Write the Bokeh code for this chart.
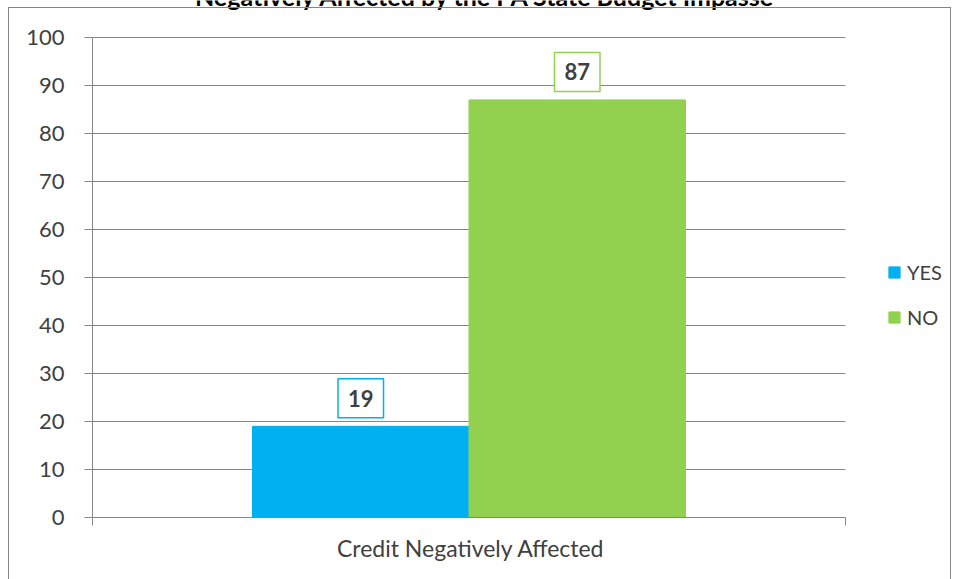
from bokeh.plotting import figure
from bokeh.layouts import column
from bokeh.models import (ColumnDataSource, FixedTicker, Label, Legend, LegendItem,
                          Range1d, Div, Title)
from bokeh.embed import file_html
from bokeh.resources import INLINE

title_text = "Negatively Affected by the PA State Budget Impasse"
category = "Credit Negatively Affected"
series = ["YES", "NO"]
values = [19, 87]
colors = ["#00B0F0", "#92D050"]
y_ticks = list(range(0, 101, 10))

W, H = 956, 579
FL, FT, FR, FB = 92, 37, 845, 517      # axis area edges in page px
px_per_unit = (FB - FT) / 100
x_end = (W - FL) / (FR - FL)           # frame runs to the right edge; axis spans 0..1
y_end = FB / px_per_unit               # frame runs to the top edge; axis spans 0..100

p = figure(width=W, height=H, output_backend="svg", toolbar_location=None,
           x_range=Range1d(0, x_end), y_range=Range1d(0, y_end),
           min_border_left=FL, min_border_top=0,
           min_border_right=0, min_border_bottom=H - FB,
           margin=(0, 0, 0, 0))
p.outline_line_color = None
p.background_fill_color = "white"
p.border_fill_color = "white"

# gridlines over the category span only
p.xgrid.grid_line_color = None
p.ygrid.grid_line_color = None
p.segment(x0=[0] * len(y_ticks), x1=[1] * len(y_ticks), y0=y_ticks, y1=y_ticks,
          line_color="#868686", line_width=1)

group_w = 0.575
bar_w = group_w / len(series)
xs = [0.5 - group_w / 2 + bar_w * (i + 0.5) for i in range(len(series))]
src = ColumnDataSource(dict(x=xs, top=values, color=colors, name=series))
r = p.vbar(x="x", top="top", width=bar_w, color="color", source=src)

p.yaxis.bounds = (0, 100)
p.yaxis.ticker = FixedTicker(ticks=y_ticks)
p.yaxis.major_label_text_font = "Lato"
p.yaxis.major_label_text_font_size = "22px"
p.yaxis.major_label_text_color = "#404040"
p.yaxis.axis_line_color = "#868686"
p.yaxis.major_tick_line_color = "#868686"
p.yaxis.major_tick_in = 0
p.yaxis.major_tick_out = 8
p.yaxis.minor_tick_line_color = None
p.yaxis.major_label_standoff = 20

p.xaxis.bounds = (0, 1)
p.xaxis.ticker = FixedTicker(ticks=[0, 1])
p.xaxis.major_label_overrides = {0: "", 1: ""}
p.xaxis.major_label_text_font_size = "0px"
p.xaxis.axis_line_color = "#868686"
p.xaxis.major_tick_line_color = "#868686"
p.xaxis.major_tick_in = 0
p.xaxis.major_tick_out = 8
p.xaxis.minor_tick_line_color = None

# category name under the axis, centred on the category span (text ~265px wide)
cat_title = Title(text=category, align="left", offset=(FR - FL) / 2 - 132,
                  text_font="Lato", text_font_style="normal", text_font_size="23px",
                  text_color="#404040", standoff=13)
p.add_layout(cat_title, "below")

for xv, v, c in zip(xs, values, colors):
    p.add_layout(Label(x=xv, y=v, y_offset=28, text=str(v), text_align="center",
                       text_baseline="middle", text_font="Lato", text_font_style="bold",
                       text_font_size="22px", text_color="#404040",
                       background_fill_color="white", border_line_color=c,
                       border_line_width=1.5, padding=(10, 11)))

legend = Legend(items=[LegendItem(label=s, renderers=[r], index=i) for i, s in enumerate(series)],
                location=(795, 188), label_text_font="Lato", label_text_font_size="20px",
                label_text_color="#404040", glyph_width=14, glyph_height=14,
                spacing=21, border_line_color=None, background_fill_alpha=0,
                label_standoff=6, padding=0, margin=0)
p.add_layout(legend, "center")

# chart title, cut off by the top of the page as in the reference
p.add_layout(Label(x=393, y=522, x_units="screen", y_units="screen", text=title_text,
                   text_align="center", text_baseline="alphabetic", text_font="Lato",
                   text_font_style="bold", text_font_size="25px", text_color="black"))

# outer chart-area border (open at the bottom, as the page cuts it off)
border = Div(text="", width=943, height=572, margin=(0, 0, 0, 0),
             styles={"position": "absolute", "left": "8px", "top": "7px",
                     "border": "1.5px solid #868686", "border-bottom": "none",
                     "box-sizing": "border-box", "pointer-events": "none"})

layout = column(p, border, margin=(0, 0, 0, 0))
open("out.html", "w").write(file_html(layout, INLINE))
